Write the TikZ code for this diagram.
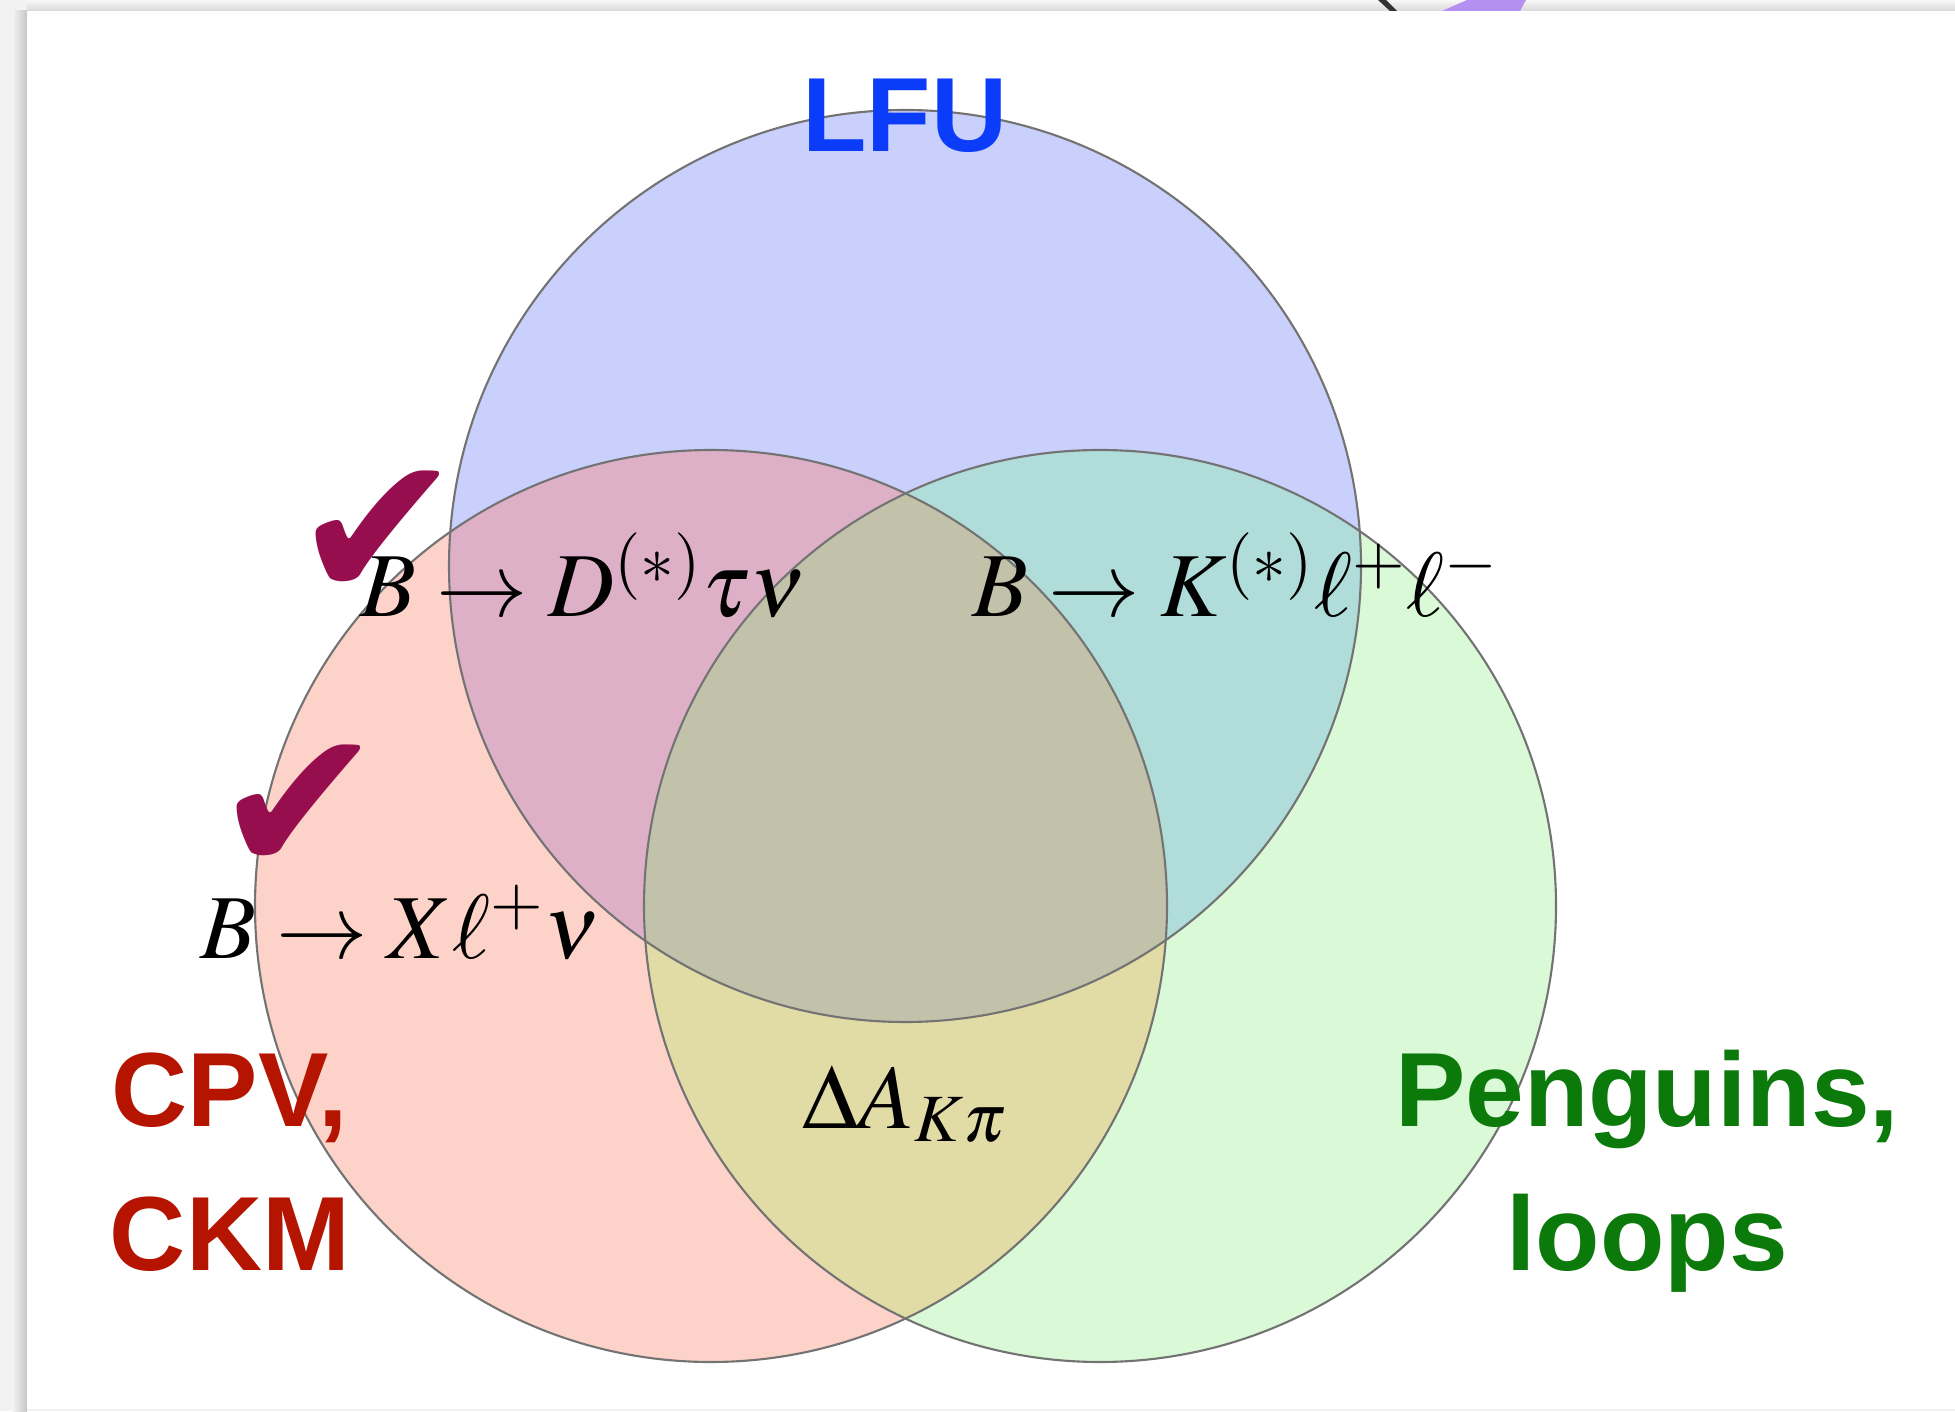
\documentclass[tikz,border=0pt]{standalone}
\usepackage{mathptmx}
\usepackage{fontspec}
\setmainfont{Liberation Serif}
\newfontfamily\headfont{Liberation Sans}
\newfontfamily\symfont{DejaVu Sans}

\definecolor{lfublue}{HTML}{C9D0FB}
\definecolor{cpvred}{HTML}{FDD3C9}
\definecolor{pengreen}{HTML}{DAF9D6}
\definecolor{lfucpv}{HTML}{DEB0C8}
\definecolor{lfupen}{HTML}{B0DDD9}
\definecolor{cpvpen}{HTML}{E1DBA6}
\definecolor{allthree}{HTML}{C2C2AB}
\definecolor{lfutext}{HTML}{0A3CFA}
\definecolor{cpvtext}{HTML}{B51500}
\definecolor{pentext}{HTML}{0B7A0B}
\definecolor{tickred}{HTML}{960E4E}
\definecolor{lavender}{HTML}{B490F2}

\begin{document}
\begin{tikzpicture}[
    ring/.style={draw=black!55, line width=0.6pt},
    topic/.style={font=\headfont\bfseries\fontsize{30}{41}\selectfont, align=center, inner sep=0pt},
    decay/.style={font=\fontsize{26}{30}\selectfont, inner sep=0pt, anchor=base},
    tick/.style={font=\symfont\fontsize{58}{58}\selectfont, text=tickred, inner sep=0pt}
]
    \useasboundingbox (0,0) rectangle (19.55,14.11);

    % Screenshot frame
    \fill[gray!10] (0,0) rectangle (19.55,14.11);
    \shade[left color=gray!8, right color=gray!45] (0.12,0) rectangle (0.27,14.0);
    \shade[top color=gray!6, bottom color=gray!30] (0.27,14.0) rectangle (19.55,14.11);
    \fill[black!80] (13.78,14.11) -- (13.86,14.11) -- (13.97,14.0) -- (13.90,14.0) -- cycle;
    \fill[lavender] (14.42,14.0) -- (14.67,14.11) -- (15.26,14.11) -- (15.20,14.0) -- cycle;
    \fill[white] (0.27,0.02) rectangle (19.55,14.0);

    % Circle centres
    \coordinate (lfu) at (9.05,8.45);
    \coordinate (cpv) at (7.11,5.05);
    \coordinate (pen) at (11.00,5.05);

    % Regions
    \fill[lfublue]  (lfu) circle (4.56);
    \fill[cpvred]   (cpv) circle (4.56);
    \fill[pengreen] (pen) circle (4.56);
    \begin{scope}
        \clip (cpv) circle (4.56);
        \fill[lfucpv] (lfu) circle (4.56);
        \fill[cpvpen] (pen) circle (4.56);
    \end{scope}
    \begin{scope}
        \clip (pen) circle (4.56);
        \fill[lfupen] (lfu) circle (4.56);
    \end{scope}
    \begin{scope}
        \clip (cpv) circle (4.56);
        \clip (pen) circle (4.56);
        \fill[allthree] (lfu) circle (4.56);
    \end{scope}
    \draw[ring] (lfu) circle (4.56);
    \draw[ring] (cpv) circle (4.56);
    \draw[ring] (pen) circle (4.56);

    % Topics
    \node[topic, text=lfutext] (lfulabel) at (9.05,12.95) {LFU};
    \node[topic, text=cpvtext] (cpvlabel) at (2.30,2.49) {CPV,\\CKM};
    \node[topic, text=pentext] (penlabel) at (16.47,2.40) {Penguins,\\loops};

    % Decays
    \node[decay] (dtaunu) at (5.83,7.94) {$B \to D^{(*)}\tau\nu$};
    \node[decay] (kll)    at (12.36,7.94) {$B \to K^{(*)}\ell^{+}\ell^{-}$};
    \node[decay] (xlnu)   at (4.00,4.53) {$B \to X\ell^{+}\nu$};
    \node[decay] (dakpi)  at (9.05,2.83) {$\Delta A_{K\pi}$};

    % Ticks
    \node[tick] (tickone) at (3.78,8.76) {✔};
    \node[tick] (ticktwo) at (2.99,6.02) {✔};
\end{tikzpicture}
\end{document}
